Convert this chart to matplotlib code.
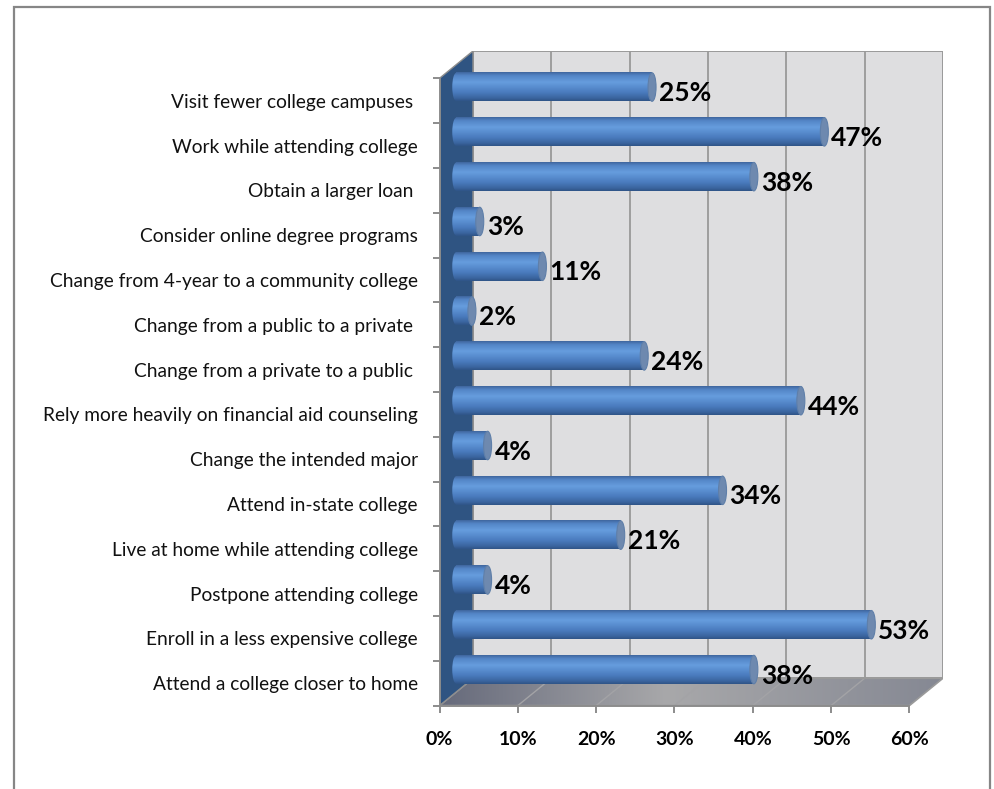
import numpy as np
import matplotlib
matplotlib.use("Agg")
import matplotlib.pyplot as plt
from matplotlib.patches import Polygon, Rectangle, Ellipse
from matplotlib.colors import LinearSegmentedColormap

# Share of respondents who would take each step
categories = [
    "Visit fewer college campuses ",
    "Work while attending college",
    "Obtain a larger loan ",
    "Consider online degree programs",
    "Change from 4-year to a community college",
    "Change from a public to a private ",
    "Change from a private to a public ",
    "Rely more heavily on financial aid counseling",
    "Change the intended major",
    "Attend in-state college",
    "Live at home while attending college",
    "Postpone attending college",
    "Enroll in a less expensive college",
    "Attend a college closer to home",
]
values = [25, 47, 38, 3, 11, 2, 24, 44, 4, 34, 21, 4, 53, 38]
x_ticks = [0, 10, 20, 30, 40, 50, 60]
x_tick_labels = ["0%", "10%", "20%", "30%", "40%", "50%", "60%"]

plt.rcParams["font.family"] = ["Lato", "DejaVu Sans"]

W, H = 994, 789
fig = plt.figure(figsize=(W / 100, H / 100), dpi=100)
fig.patch.set_facecolor("white")

# front plane of the plot box (pixels) and the depth offset of the back wall
front_left, front_right = 439.5, 909.4
front_top, front_bottom = 78.3, 705.6
depth_px = (33.5, 27.3)

n = len(categories)
xmax = x_ticks[-1]
ux = (front_right - front_left) / xmax
uy = (front_bottom - front_top) / n
DX = depth_px[0] / ux
DY = depth_px[1] / uy

ax = fig.add_axes([front_left / W, (H - front_bottom) / H,
                   (front_right - front_left + depth_px[0]) / W,
                   (front_bottom - front_top + depth_px[1]) / H])
ax.patch.set_visible(False)
ax.set_xlim(0, xmax + DX)
ax.set_ylim(-0.5, n - 0.5 + DY)

ypos = n - 1 - np.arange(n)
lo, hi = -0.5, n - 0.5
edge = "#9A9A9A"

bar_cmap = LinearSegmentedColormap.from_list(
    "cyl", [(0.0, "#3F659D"), (0.12, "#5385C6"), (0.35, "#669DDE"),
            (0.7, "#4A7BBE"), (0.9, "#3A649E"), (1.0, "#2F5486")])
floor_cmap = LinearSegmentedColormap.from_list(
    "floor", [(0.0, "#666A7B"), (0.45, "#A8A8AA"), (1.0, "#858893")])


def shaded(extent, cmap, vertical=True, clip=None, z=1):
    g = np.linspace(0, 1, 256)
    g = g.reshape(-1, 1) if vertical else g.reshape(1, -1)
    im = ax.imshow(g, cmap=cmap, extent=extent, origin="upper",
                   aspect="auto", interpolation="bilinear", zorder=z)
    if clip is not None:
        im.set_clip_path(clip)
    return im


# back wall with vertical gridlines
ax.add_patch(Rectangle((DX, lo + DY), xmax, n, fc="#DEDEE0", ec=edge,
                       lw=1.4, zorder=0.5))
for t in x_ticks[1:-1]:
    ax.plot([t + DX, t + DX], [lo + DY, hi + DY], color="#999999", lw=1.3,
            zorder=0.6)

# floor
floor_pts = [(0, lo), (xmax, lo), (xmax + DX, lo + DY), (DX, lo + DY)]
floor = Polygon(floor_pts, closed=True, transform=ax.transData)
shaded([0, xmax + DX, lo, lo + DY], floor_cmap, vertical=False, clip=floor,
       z=0.7)
for t in x_ticks[1:-1]:
    ax.plot([t, t + DX], [lo, lo + DY], color="#A3A3A6", lw=1.0, zorder=0.8)
ax.add_patch(Polygon(floor_pts, closed=True, fill=False, ec=edge, lw=1.2,
                     zorder=0.85))

# left side wall
ax.add_patch(Polygon([(0, lo), (DX, lo + DY), (DX, hi + DY), (0, hi)],
                     closed=True, fc="#2F5482", ec="#8E8E8E", lw=1.0,
                     zorder=0.9))

# cylinders
bar_h = 28.5 / uy
cap_w = 8.0 / ux
x0 = DX / 2
for y, v in zip(ypos, values):
    yc = y + DY / 2
    x1 = v + DX / 2
    shaded([x0, x1, yc - bar_h / 2, yc + bar_h / 2], bar_cmap, z=3)
    left_cap = Ellipse((x0, yc), cap_w, bar_h, transform=ax.transData)
    shaded([x0 - cap_w / 2, x0, yc - bar_h / 2, yc + bar_h / 2], bar_cmap,
           clip=left_cap, z=3)
    ax.add_patch(Ellipse((x1, yc), cap_w, bar_h, fc="#6E89AF", ec="#5F7FA9",
                         lw=0.8, zorder=4))
    ax.annotate(f"{v}%", (x1, yc), xytext=(7, -6), textcoords="offset pixels",
                ha="left", va="center", fontsize=19, fontweight="bold",
                color="black", zorder=5)

# axes, ticks and labels
for s in ("top", "right"):
    ax.spines[s].set_visible(False)
for s in ("left", "bottom"):
    ax.spines[s].set_color("#8C8C8C")
    ax.spines[s].set_linewidth(1.4)
    ax.spines[s].set_zorder(6)
ax.spines["left"].set_bounds(lo, hi)
ax.spines["bottom"].set_bounds(0, xmax)

ax.set_xticks(x_ticks, x_tick_labels)
ax.tick_params(axis="x", direction="out", length=5, width=1.4,
               color="#8C8C8C", pad=13, labelsize=14, labelcolor="black")
for lbl in ax.get_xticklabels():
    lbl.set_fontweight("bold")

ax.set_yticks(ypos, categories)
ax.tick_params(axis="y", which="major", length=0, pad=15.5, labelsize=13.8,
               labelcolor="#111111")
ax.set_yticks(np.arange(lo, n), minor=True)
ax.tick_params(axis="y", which="minor", direction="out", length=5, width=1.4,
               color="#8C8C8C")

ax.set_xlim(0, xmax + DX)
ax.set_ylim(-0.5, n - 0.5 + DY)

# chart border
fig.add_artist(Rectangle((14 / W, -0.1), (990 - 14) / W, (H - 7) / H + 0.1,
                         transform=fig.transFigure, fill=False, ec="#868686",
                         lw=1.6))

fig.savefig("out.png", dpi=100)
